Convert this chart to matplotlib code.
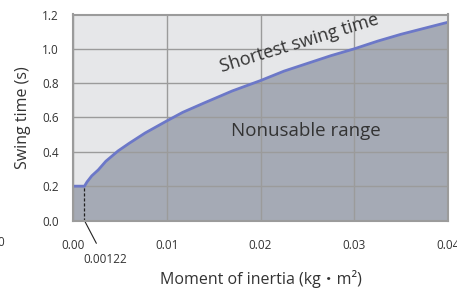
import numpy as np
import matplotlib.pyplot as plt

plt.rcParams['font.family'] = ['Open Sans', 'Noto Sans CJK JP', 'DejaVu Sans']

# Точки кривої
inertia = [0, 0.00122, 0.0015, 0.002, 0.0027, 0.0035, 0.0048, 0.006, 0.0077,
           0.01, 0.0117, 0.014, 0.017, 0.02, 0.0225, 0.025, 0.0275, 0.03,
           0.0325, 0.035, 0.0375, 0.04]
swing_time = [0.2, 0.2, 0.225, 0.26, 0.295, 0.345, 0.405, 0.45, 0.51,
              0.58, 0.63, 0.685, 0.755, 0.815, 0.87, 0.915, 0.96, 1.0,
              1.045, 1.085, 1.12, 1.155]
x_ticks = [0.00, 0.01, 0.02, 0.03, 0.04]
y_ticks = [0.0, 0.2, 0.4, 0.6, 0.8, 1.0, 1.2]
knee_x = 0.00122
knee_y = 0.2

text_col = '#333333'
fig = plt.figure(figsize=(4.57, 2.91), dpi=100)
ax = fig.add_axes([73 / 457, 70.5 / 291, 375 / 457, 206 / 291])
ax.set_facecolor('#e6e7e9')

ax.fill_between(inertia, 0, swing_time, color='#a5aab5', zorder=1)
ax.plot(inertia, swing_time, color='#6c78c8', linewidth=2, zorder=3,
        solid_capstyle='butt')

ax.set_xlim(0, 0.04)
ax.set_ylim(0, 1.2)
ax.set_xticks(x_ticks)
ax.set_xticklabels([f"{v:.2f}" for v in x_ticks])
ax.set_yticks(y_ticks)
ax.set_yticklabels([f"{v:.1f}" for v in y_ticks])
ax.tick_params(length=0, labelsize=8.5, colors=text_col, pad=10)
ax.tick_params(axis='x', pad=13)
ax.grid(True, color='#9b9b9b', linewidth=1, zorder=2)
ax.set_axisbelow(False)
for s in ax.spines.values():
    s.set_color('#9b9b9b')
    s.set_linewidth(1.5)
    s.set_zorder(4)

# Пунктир до точки зламу та виноска
ax.plot([knee_x, knee_x], [0, knee_y], color='#222222', linewidth=0.9,
        linestyle=(0, (2.5, 1.5)), zorder=3)
ax.annotate(f"{knee_x:.5f}", xy=(knee_x, 0), xytext=(knee_x + 0.0022, -0.23),
            textcoords='data', ha='center', va='center', fontsize=8.5,
            color=text_col, annotation_clip=False,
            arrowprops=dict(arrowstyle='-', color='#222222', linewidth=0.8,
                            shrinkA=6, shrinkB=0))

ax.text(0.0241, 1.035, "Shortest swing time", rotation=17, ha='center',
        va='center', fontsize=13, color=text_col, zorder=5,
        rotation_mode='anchor')
ax.text(0.0248, 0.52, "Nonusable range", ha='center', va='center',
        fontsize=13.5, color=text_col, zorder=5)

ax.set_xlabel("Moment of inertia (kg・m²)", fontsize=11.5, color=text_col,
              labelpad=13)
ax.set_ylabel("Swing time (s)", fontsize=11.5, color=text_col, labelpad=8)

# обрізана мітка з лівого краю
fig.text(4 / 457, 1 - 243 / 291, "0", ha='right', va='center', fontsize=8.5,
         color=text_col)

fig.savefig('out.png', dpi=100)
